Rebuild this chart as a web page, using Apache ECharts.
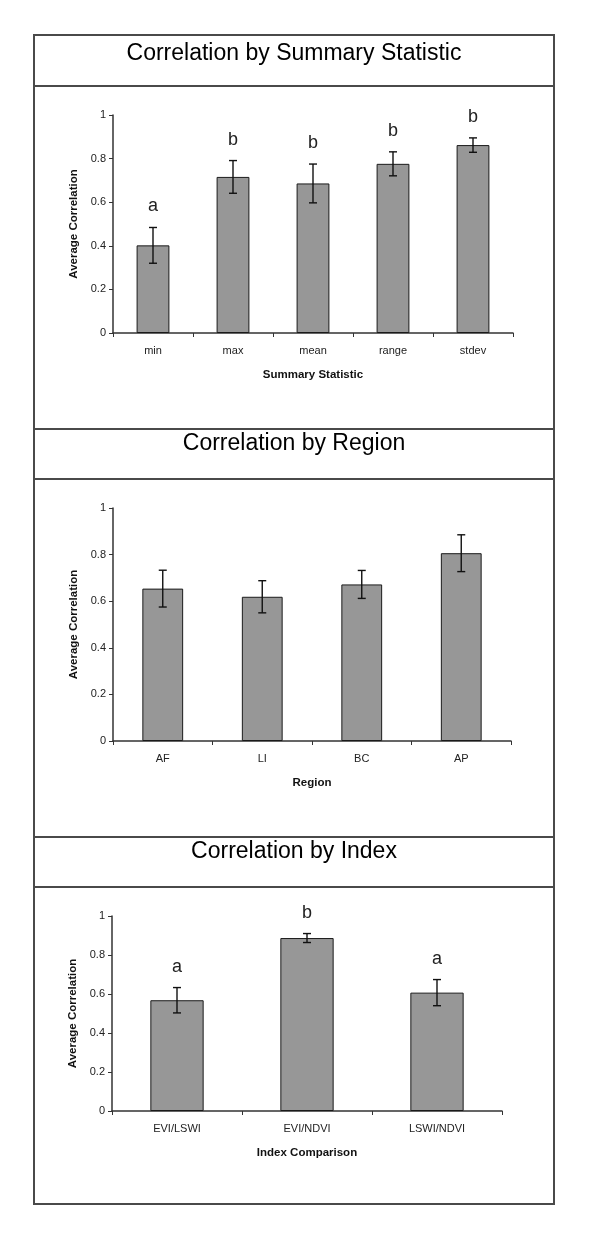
<!DOCTYPE html>
<html><head><meta charset="utf-8">
<script src="https://cdn.jsdelivr.net/npm/echarts@6/dist/echarts.min.js"></script>
<style>html,body{margin:0;padding:0;background:#fff}#c{width:600px;height:1248px}</style>
</head><body><div id="c"></div><script>
// ---- data ----
const statCats = ['min', 'max', 'mean', 'range', 'stdev'];
const statMeans = [0.402, 0.716, 0.686, 0.776, 0.862];
const statErrs = [0.082, 0.075, 0.089, 0.055, 0.033];
const statLetters = ['a', 'b', 'b', 'b', 'b'];

const regionCats = ['AF', 'LI', 'BC', 'AP'];
const regionMeans = [0.654, 0.619, 0.672, 0.806];
const regionErrs = [0.079, 0.069, 0.060, 0.079];

const indexCats = ['EVI/LSWI', 'EVI/NDVI', 'LSWI/NDVI'];
const indexMeans = [0.568, 0.887, 0.607];
const indexErrs = [0.065, 0.023, 0.067];
const indexLetters = ['a', 'b', 'a'];

const panelTitles = ['Correlation by Summary Statistic', 'Correlation by Region', 'Correlation by Index'];
const xNames = ['Summary Statistic', 'Region', 'Index Comparison'];
const yName = 'Average Correlation';

// ---- styling / layout ----
const FONT = '"Liberation Sans", Arial, sans-serif';
const grids = [
  {left: 113, top: 115, width: 400, height: 218},
  {left: 113, top: 508, width: 398, height: 233},
  {left: 112, top: 916, width: 390, height: 195}
];
const panels = [
  {cats: statCats, means: statMeans, errs: statErrs, letters: statLetters},
  {cats: regionCats, means: regionMeans, errs: regionErrs, letters: null},
  {cats: indexCats, means: indexMeans, errs: indexErrs, letters: indexLetters}
];

const option = {
  animation: false,
  backgroundColor: '#fff',
  grid: [], xAxis: [], yAxis: [], series: [],
  graphic: []
};

panels.forEach((p, k) => {
  option.grid.push(Object.assign({outerBoundsMode: 'none', containLabel: false}, grids[k]));
  option.xAxis.push({
    type: 'category', gridIndex: k, data: p.cats,
    name: xNames[k], nameLocation: 'middle', nameGap: 36,
    nameTextStyle: {fontFamily: FONT, fontWeight: 'bold', fontSize: 11.5, color: '#111'},
    axisLine: {show: true, lineStyle: {color: '#333', width: 1.5}},
    axisTick: {show: true, length: 4, lineStyle: {color: '#333'}},
    axisLabel: {fontFamily: FONT, fontSize: 11, color: '#222', margin: 12},
    splitLine: {show: false}
  });
  option.yAxis.push({
    type: 'value', gridIndex: k, min: 0, max: 1, interval: 0.2,
    name: yName, nameLocation: 'middle', nameGap: 32, nameRotate: 90,
    nameTextStyle: {fontFamily: FONT, fontWeight: 'bold', fontSize: 11.5, color: '#111'},
    axisLine: {show: true, lineStyle: {color: '#333', width: 1.5}},
    axisTick: {show: true, length: 4, lineStyle: {color: '#333'}},
    axisLabel: {fontFamily: FONT, fontSize: 11, color: '#222', margin: 7},
    splitLine: {show: false}
  });
  option.series.push({
    type: 'bar', xAxisIndex: k, yAxisIndex: k, data: p.means,
    barWidth: '41%',
    itemStyle: {color: '#979797', borderColor: '#1a1a1a', borderWidth: 1}
  });
  const letters = p.letters;
  option.series.push({
    type: 'custom', xAxisIndex: k, yAxisIndex: k,
    data: p.means.map((m, i) => [i, m, p.errs[i]]),
    encode: {x: 0, y: 1},
    z: 5,
    renderItem: function (params, api) {
      const i = api.value(0), m = api.value(1), e = api.value(2);
      const top = api.coord([i, m + e]);
      const bot = api.coord([i, m - e]);
      const hw = 4;
      const st = {stroke: '#111', lineWidth: 1.4};
      const ch = [
        {type: 'line', shape: {x1: top[0], y1: top[1], x2: bot[0], y2: bot[1]}, style: st},
        {type: 'line', shape: {x1: top[0] - hw, y1: top[1], x2: top[0] + hw, y2: top[1]}, style: st},
        {type: 'line', shape: {x1: bot[0] - hw, y1: bot[1], x2: bot[0] + hw, y2: bot[1]}, style: st}
      ];
      if (letters) {
        ch.push({type: 'text', style: {
          text: letters[params.dataIndex], x: top[0], y: top[1] - 21,
          textAlign: 'center', textVerticalAlign: 'middle',
          font: '18px ' + FONT, fill: '#222'
        }});
      }
      return {type: 'group', children: ch};
    }
  });
});

// frame and title rows
option.graphic.push({type: 'rect', shape: {x: 34, y: 35, width: 520, height: 1169}, style: {stroke: '#4a4a4a', lineWidth: 2, fill: 'none'}, silent: true});
[86, 429, 479, 837, 887].forEach(y => {
  option.graphic.push({type: 'line', shape: {x1: 34, y1: y, x2: 554, y2: y}, style: {stroke: '#4a4a4a', lineWidth: 2}, silent: true});
});
[54, 443.5, 851.5].forEach((y, k) => {
  option.graphic.push({type: 'text', x: 294, y: y, style: {
    text: panelTitles[k], textAlign: 'center', textVerticalAlign: 'middle',
    font: '23px ' + FONT, fill: '#000'
  }, silent: true});
});

const chart = echarts.init(document.getElementById('c'), null, {renderer: 'canvas'});
chart.setOption(option);
</script></body></html>
